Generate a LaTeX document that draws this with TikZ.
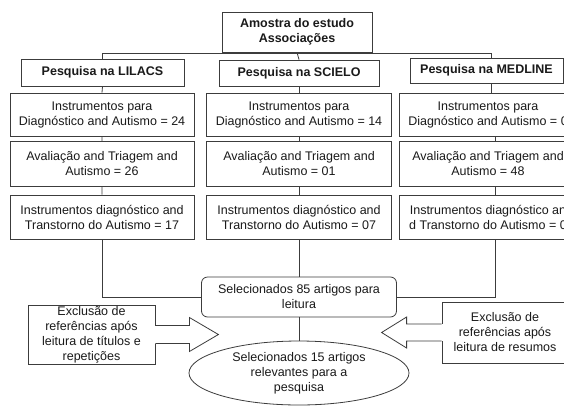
\documentclass[tikz,border=0pt]{standalone}
\usepackage{fontspec}
\setmainfont{Liberation Sans}
\usetikzlibrary{calc,shapes.geometric}

\definecolor{linha}{HTML}{3C3C3C}
\definecolor{texto}{HTML}{1A1A1A}

\tikzset{
  caixa/.style={draw=linha, line width=0.8pt, align=center, inner sep=0pt,
    text=texto, font=\fontsize{12.5}{15}\selectfont},
  titulo/.style={caixa, font=\fontsize{12.5}{15}\selectfont\bfseries},
  liga/.style={draw=linha, line width=0.8pt},
}

\begin{document}
\begin{tikzpicture}[x=1pt, y=-1pt]
    \useasboundingbox (0,0) rectangle (564,407);
    \clip (0,0) rectangle (564,407);
    \fill[white] (0,0) rectangle (564,407);

    % topo e bases
    \node[titulo, minimum width=150, minimum height=40](amostra) at (297,32){Amostra do estudo\\Associações};
    \node[titulo, minimum width=163, minimum height=27](lilacs) at (102.5,72.5){Pesquisa na LILACS};
    \node[titulo, minimum width=160, minimum height=26](scielo) at (299,73){Pesquisa na SCIELO};
    \node[titulo, minimum width=153, minimum height=25](medline) at (486.5,70.5){Pesquisa na MEDLINE};
    \coordinate (barra) at (299,53.5);
    \draw[liga](lilacs.north) |- (barra) -| ([xshift=4.5]medline.north);
    \draw[liga](amostra.south) -- (scielo.north);

    % LILACS
    \node[caixa, minimum width=184, minimum height=43](l1) at (102,114.5){Instrumentos para\\Diagnóstico and Autismo = 24};
    \node[caixa, minimum width=184, minimum height=45](l2) at (102,164){Avaliação and Triagem and\\Autismo = 26};
    \node[caixa, minimum width=184, minimum height=44](l3) at (102,217){Instrumentos diagnóstico and\\Transtorno do Autismo = 17};
    % SCIELO
    \node[caixa, minimum width=185, minimum height=43](s1) at (299,114.5){Instrumentos para\\Diagnóstico and Autismo = 14};
    \node[caixa, minimum width=185, minimum height=45](s2) at (299,164){Avaliação and Triagem and\\Autismo = 01};
    \node[caixa, minimum width=185, minimum height=44](s3) at (299,217){Instrumentos diagnóstico and\\Transtorno do Autismo = 07};
    % MEDLINE
    \node[caixa, minimum width=178, minimum height=43](m1) at (488,114.5){Instrumentos para\\Diagnóstico and Autismo = 0};
    \node[caixa, minimum width=178, minimum height=45](m2) at (488,164){Avaliação and Triagem and\\Autismo = 48};
    \node[caixa, minimum width=178, minimum height=44](m3) at (488,217){Instrumentos diagnóstico an\\d Transtorno do Autismo = 0};

    \draw[liga](lilacs.south) -- (l1.north) (l1.south) -- (l2.north) (l2.south) -- (l3.north);
    \draw[liga](scielo.south) -- (s1.north) (s1.south) -- (s2.north) (s2.south) -- (s3.north);
    \draw[liga]([xshift=3]m1.north) -- ([xshift=3]m1.north |- medline.south);
    \draw[liga]([xshift=7]m1.south) -- ([xshift=7]m2.north) ([xshift=7]m2.south) -- ([xshift=7]m3.north);

    % selecao
    \node[caixa, rounded corners=6, minimum width=195, minimum height=40](sel) at (299,297){Selecionados 85 artigos para\\leitura};
    \node[caixa, ellipse, minimum width=220, minimum height=64](final) at (299,373){Selecionados 15 artigos\\relevantes para a\\pesquisa};
    \draw[liga](l3.south) |- (sel.west);
    \draw[liga](s3.south) -- (sel.north);
    \draw[liga]([xshift=7]m3.south) |- (sel.east);
    \draw[liga](sel.south) -- (final.north);

    % exclusoes
    \node[caixa, minimum width=127, minimum height=59](exl) at (91.5,334.5){Exclusão de\\referências após\\leitura de títulos e\\repetições};
    \node[caixa, minimum width=126, minimum height=61](exr) at (505,332.5){Exclusão de\\referências após\\leitura de resumos};
    \fill[white]($(exl.east)+(-1.5,-9)$) rectangle ($(exl.east)+(1.5,9)$);
    \draw[liga, line join=miter]($(exl.east)+(0,-9)$) -- ++(34,0) -- ++(0,-8)
        -- ($(exl.east)+(63,0)$) -- ($(exl.east)+(34,17)$) -- ++(0,-8) -- ($(exl.east)+(0,9)$);
    \fill[white]($(exr.west)+(-1.5,-8.5)$) rectangle ($(exr.west)+(1.5,8.5)$);
    \draw[liga, line join=miter]($(exr.west)+(0,-8.5)$) -- ++(-35,0) -- ++(0,-7)
        -- ($(exr.west)+(-60,0)$) -- ($(exr.west)+(-35,15.5)$) -- ++(0,-7) -- ($(exr.west)+(0,8.5)$);
\end{tikzpicture}
\end{document}
